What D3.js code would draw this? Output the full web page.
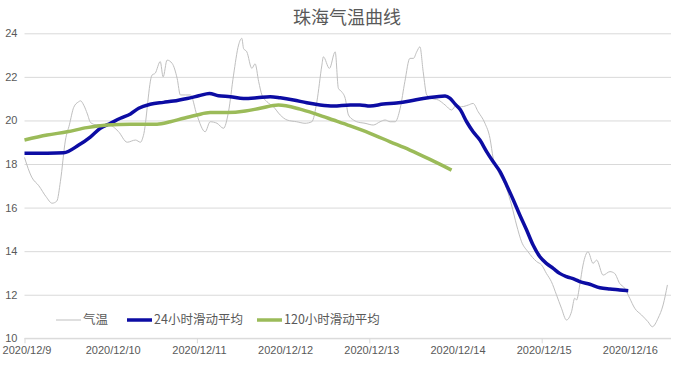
<!DOCTYPE html>
<html>
<head>
<meta charset="utf-8">
<script src="https://cdn.jsdelivr.net/npm/d3@7"></script>
<style>
  body { margin: 0; background: #fff; }
  .chart text { font-family: "Liberation Sans", Arial, "Noto Sans CJK SC", sans-serif; fill: #595959; }
  .legend text, .title { font-family: "Noto Sans CJK SC", sans-serif; }
</style>
</head>
<body>
<div class="chart"></div>
<script>
// hours counted from 2020/12/9 00:00
let dayLabels = ["2020/12/9", "2020/12/10", "2020/12/11", "2020/12/12",
                 "2020/12/13", "2020/12/14", "2020/12/15", "2020/12/16"];
let yTicks = [10, 12, 14, 16, 18, 20, 22, 24];

// 气温 (hourly readings)
let tempHour = [0, 2, 4, 6, 7.7, 9, 10, 11.4, 12.5, 13.7, 15, 15.6, 16.5, 17.5, 18.4, 20, 23.4, 26.1, 28.6,
  30.9, 32.3, 33.1, 35.5, 36.4, 37.8, 38.6, 39.7, 41.1, 42.5, 43.4, 44.8, 46.2, 48, 50.3, 51.7, 53.6, 55.4,
  56.8, 58.2, 59.6, 60.5, 61, 61.9, 63.3, 64.2, 65.2, 66.1, 67.5, 69.3, 71.2, 73.1, 75.8, 78.1, 80, 81.4,
  82.8, 83.2, 84.9, 86.5, 87.4, 88.3, 89.3, 90.2, 91.6, 92.5, 94.8, 97.1, 99, 100.4, 101.8, 103.2, 104.6,
  105.9, 107.3, 108.3, 109.2, 110.1, 111, 112, 113.4, 115.2, 117.1, 118.9, 120.3, 121.7, 123.6, 124.9,
  126.3, 128.2, 129.6, 130.5, 131.9, 134.2, 135.6, 137, 138.4, 140.2, 142.6, 144, 145.3, 146.7, 148.1,
  149.5, 150.9, 152.3, 153.2, 153.7, 154.6, 155.5, 156.9, 158.3, 159.3, 161.1, 163, 164.3, 165.7, 167.1,
  168.5, 169.9, 171.8, 173.6, 174.8, 176.4, 177.8, 179];
let tempValue = [18.3, 17.4, 17.0, 16.5, 16.2, 16.3, 17.2, 19.1, 19.8, 20.6, 20.85, 20.9, 20.7, 20.3, 19.9, 19.8, 19.8, 19.5, 19.0,
  19.1, 19.0, 19.3, 22.08, 22.17, 22.7, 22.0, 22.77, 22.62, 21.93, 21.17, 21.17, 21.17, 20.25, 19.48, 19.94, 19.87, 19.64,
  20.4, 22.08, 23.46, 23.77, 23.3, 23.15, 22.39, 22.6, 21.78, 21.17, 20.86, 20.63, 20.25, 20.02, 19.94, 19.87, 19.94, 20.86,
  22.54, 22.92, 22.39, 23.15, 21.47, 21.32, 21.01, 20.25, 20.02, 19.94, 19.87, 19.79, 19.94, 20.02, 19.94, 19.94, 20.56,
  21.78, 22.85, 22.85, 23.15, 23.38, 22.24, 21.17, 21.01, 20.94, 20.71, 20.48, 20.71, 20.63, 20.71, 20.78,
  20.4, 19.87, 19.18, 18.26, 17.65, 16.88, 16.12, 15.2, 14.43, 13.97, 13.52, 13.36, 12.98, 12.6, 12.0,
  11.38, 10.84, 11.22, 11.84, 11.76, 12.45, 13.36, 13.97, 13.44, 13.59, 12.9, 13.06, 12.98, 12.52, 12.3,
  11.84, 11.38, 11.07, 10.76, 10.53, 10.92, 11.53, 12.45];

// 24小时滑动平均
let avg24Hour = [0, 10.9, 15.1, 18.4, 21.1, 23.9, 26.7, 29.5, 31.8, 35, 38.7, 41.5, 45.3, 48.5, 51.5, 54, 57.3,
  61, 64.7, 68.4, 71.2, 74.9, 78.6, 82.3, 86, 90.7, 93.4, 96.2, 99.9, 103.6, 107.3, 111, 114.8, 117.1, 118.5,
  119.9, 121.3, 123.1, 124.9, 126.8, 128.7, 130.5, 132.4, 134.2, 136.1, 137.9, 139.8, 141.6, 143.5, 145.3,
  147.2, 149, 150.9, 153.2, 154.6, 157.4, 160.2, 163, 165.7, 168.1];
let avg24Value = [18.49, 18.52, 18.87, 19.25, 19.64, 19.87, 20.1, 20.3, 20.56, 20.74, 20.83, 20.89, 21.01, 21.13, 21.24, 21.13, 21.09,
  21.01, 21.04, 21.09, 21.04, 20.94, 20.81, 20.71, 20.66, 20.71, 20.71, 20.66, 20.75, 20.8, 20.89, 21.01, 21.09, 21.12, 21.01,
  20.75, 20.5, 19.94, 19.48, 19.1, 18.56, 18.1, 17.65, 17.04, 16.35, 15.66, 14.97, 14.28, 13.74, 13.44,
  13.21, 12.98, 12.83, 12.71, 12.6, 12.48, 12.32, 12.26, 12.22, 12.18];

// 120小时滑动平均
let avg120Hour = [0, 6.3, 11.9, 17.4, 23, 29.5, 36.9, 40.6, 44.3, 48, 51.7, 56.4, 61.5, 65.6, 70.7, 76.7,
  81.4, 86, 90.7, 96.2, 101.8, 107.3, 112.9, 118.9];
let avg120Value = [19.1, 19.33, 19.48, 19.67, 19.79, 19.83, 19.83, 19.94, 20.1, 20.25, 20.36, 20.36, 20.43, 20.56, 20.71, 20.52,
  20.28, 20.02, 19.75, 19.41, 19.02, 18.64, 18.21, 17.72];

let series = [
  { name: "气温", hours: tempHour, values: tempValue, color: "#bfbfbf", width: 1 },
  { name: "24小时滑动平均", hours: avg24Hour, values: avg24Value, color: "#0c0ca3", width: 3.5 },
  { name: "120小时滑动平均", hours: avg120Hour, values: avg120Value, color: "#9bbb59", width: 3.5 }
];

let svgWidth = 700;
let svgHeight = 365;

let svg = d3.select(".chart")
  .append("svg")
  .attr("width", svgWidth)
  .attr("height", svgHeight);

let x = d3.scaleLinear().domain([0, 180]).range([24.5, 671]);
let y = d3.scaleLinear().domain([10, 24]).range([338.3, 33.3]);

// gridlines + y labels
let yAxis = svg.append("g")
  .attr("transform", "translate(24.5,0)")
  .call(d3.axisLeft(y).tickValues(yTicks).tickSize(-(671 - 24.5)).tickPadding(7));
yAxis.select(".domain").remove();
yAxis.selectAll("line").attr("stroke", "#d9d9d9");
yAxis.selectAll("text").style("font-size", "11px");

// bottom axis line with a tick every two days
let tickAxis = svg.append("g")
  .attr("transform", "translate(0,338.3)")
  .call(d3.axisBottom(x).tickValues([0, 48, 96, 144]).tickSize(5).tickFormat(""));
tickAxis.select(".domain").attr("d", `M${x(0)},0H${x(180)}`).attr("stroke", "#d9d9d9");
tickAxis.selectAll("line").attr("stroke", "#d9d9d9");

// day labels
let labelAxis = svg.append("g")
  .attr("transform", "translate(2,338.3)")
  .call(d3.axisBottom(x).tickValues(dayLabels.map((d, i) => i * 24))
    .tickFormat((d, i) => dayLabels[i]).tickSize(0).tickPadding(8));
labelAxis.select(".domain").remove();
labelAxis.selectAll("text").style("font-size", "11px");

// lines
series.forEach(function(s) {
  let line = d3.line()
    .x((d, i) => x(s.hours[i]))
    .y(d => y(d))
    .curve(d3.curveMonotoneX);
  svg.append("path")
    .datum(s.values)
    .attr("fill", "none")
    .attr("stroke", s.color)
    .attr("stroke-width", s.width)
    .attr("stroke-linejoin", "round")
    .attr("d", line);
});

// title
svg.append("text")
  .attr("class", "title")
  .attr("x", 347)
  .attr("y", 24)
  .attr("text-anchor", "middle")
  .style("font-size", "18px")
  .text("珠海气温曲线");

// legend
let legendX = [56, 127, 257];
let legend = svg.append("g").attr("class", "legend");
series.forEach(function(s, i) {
  let g = legend.append("g").attr("transform", `translate(${legendX[i]},320)`);
  g.append("line")
    .attr("x1", 0).attr("x2", 25)
    .attr("stroke", s.color)
    .attr("stroke-width", s.width);
  g.append("text")
    .attr("x", 27)
    .attr("dy", "0.35em")
    .style("font-size", "12.5px")
    .text(s.name);
});
</script>
</body>
</html>
